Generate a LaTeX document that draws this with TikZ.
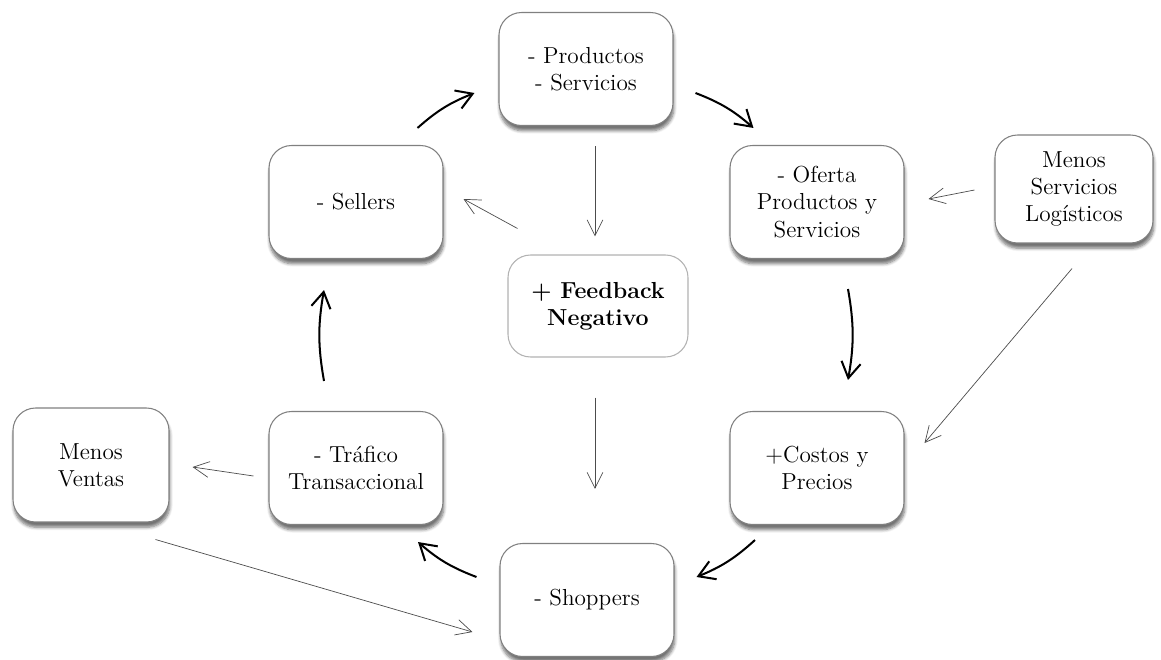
\documentclass[tikz,border=0pt]{standalone}
\usetikzlibrary{calc,arrows.meta,shadows.blur}
\begin{document}
\begin{tikzpicture}[x=0.02cm,y=-0.02cm,
    box/.style={draw=black!50,line width=0.6pt,rounded corners=0.45cm,fill=white,align=center,
      minimum width=3.48cm,minimum height=2.26cm,inner sep=2pt,
      font=\fontsize{13.2}{15.5}\selectfont,
      blur shadow={shadow xshift=0.5pt,shadow yshift=-3pt,shadow blur steps=6,shadow opacity=55}},
    softbox/.style={draw=black!30,line width=0.6pt,rounded corners=0.45cm,fill=white,align=center,
      minimum width=3.6cm,minimum height=2.04cm,inner sep=2pt,
      font=\fontsize{13.2}{15.5}\selectfont\bfseries},
    cyclearrow/.style={line width=1.15pt,-{Straight Barb[length=9pt,width=11pt,line width=1.15pt]}},
    thinarrow/.style={draw=black!70,line width=0.4pt,-{Straight Barb[length=9pt,width=9pt,line width=0.4pt]}}]
    \useasboundingbox (0,0) rectangle (1161,660);
    % boxes
    \node[box] (prod) at (586,69) {- Productos\\- Servicios};
    \node[box] (sell) at (356,202) {- Sellers};
    \node[box] (ofer) at (817,202) {- Oferta\\Productos y\\Servicios};
    \node[box,minimum width=3.16cm,minimum height=2.16cm] (logi) at (1074,189) {Menos\\Servicios\\Log\'isticos};
    \node[softbox] (feed) at (598,306) {+ Feedback\\Negativo};
    \node[box,minimum width=3.12cm,minimum height=2.28cm] (vent) at (91,465) {Menos\\Ventas};
    \node[box] (traf) at (356,468) {- Tr\'afico\\Transaccional};
    \node[box] (cost) at (817,468) {+Costos y\\Precios};
    \node[box] (shop) at (587,600) {- Shoppers};
    % main cycle
    \draw[cyclearrow] ($(sell.north east)+(-26,-17)$) to[bend left=10] ($(prod.west)+(-24,24)$);
    \draw[cyclearrow] ($(prod.east)+(22,24)$) to[bend left=10] ($(ofer.north west)+(24,-17)$);
    \draw[cyclearrow] ($(ofer.south)+(31,30)$) to[bend left=10] ($(cost.north)+(31,-31)$);
    \draw[cyclearrow] ($(cost.south)+(-62,15)$) to[bend left=10] ($(shop.east)+(22,-23)$);
    \draw[cyclearrow] ($(shop.west)+(-23,-23)$) to[bend left=10] ($(traf.south)+(62,17)$);
    \draw[cyclearrow] ($(traf.north)+(-32,-30)$) to[bend left=10] ($(sell.south)+(-32,31)$);
    % feedback and side effects
    \draw[thinarrow] ($(prod.south)+(9,20)$) -- ($(feed.north)+(-3,-18)$);
    \draw[thinarrow] ($(feed.north west)+(10,-26)$) -- ($(sell.east)+(20,-3)$);
    \draw[thinarrow] ($(feed.south)+(-3,40)$) -- ($(shop.north)+(8,-54)$);
    \draw[thinarrow] ($(logi.west)+(-20,1)$) -- ($(ofer.east)+(24,-3)$);
    \draw[thinarrow] ($(logi.south)+(-2,25)$) -- ($(cost.east)+(20,-25)$);
    \draw[thinarrow] ($(traf.west)+(-15,8)$) -- ($(vent.east)+(23,2)$);
    \draw[thinarrow] ($(vent.south east)+(-14,17)$) -- ($(shop.west)+(-27,32)$);
\end{tikzpicture}
\end{document}
